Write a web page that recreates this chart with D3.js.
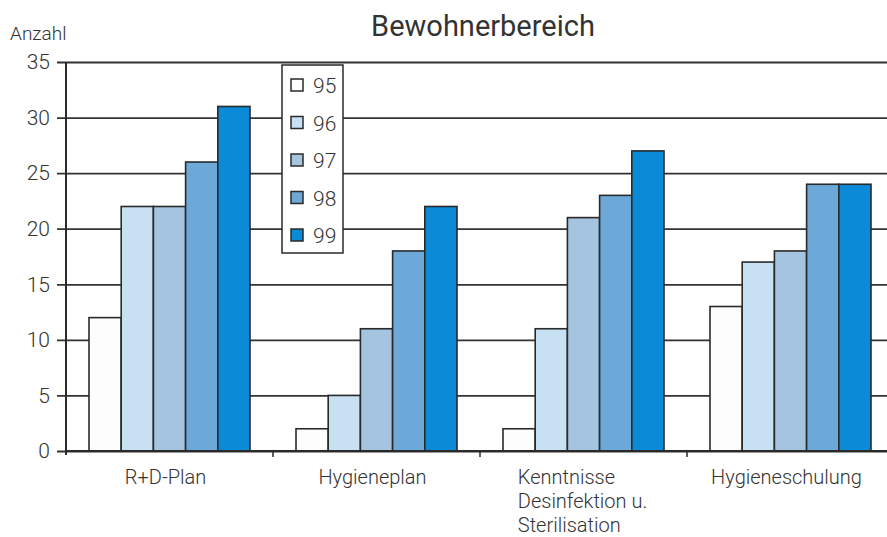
<!DOCTYPE html>
<html lang="de">
<head>
<meta charset="UTF-8">
<title>Bewohnerbereich</title>
<style>
  body { margin: 0; background: #fff; }
  svg text { font-family: Roboto, "Liberation Sans", sans-serif; font-weight: 300; fill: #333; }
</style>
</head>
<body>
<svg width="887" height="537"></svg>
<script src="https://d3js.org/d3.v7.min.js"></script>
<script>
// data
var categories = [["R+D-Plan"], ["Hygieneplan"], ["Kenntnisse", "Desinfektion u.", "Sterilisation"], ["Hygieneschulung"]];
var years = ["95", "96", "97", "98", "99"];
var v95 = [12, 2, 2, 13];
var v96 = [22, 5, 11, 17];
var v97 = [22, 11, 21, 18];
var v98 = [26, 18, 23, 24];
var v99 = [31, 22, 27, 24];
var yTicks = [0, 5, 10, 15, 20, 25, 30, 35];
var series = [v95, v96, v97, v98, v99];
var colors = ["#fdfdfd", "#c7e0f2", "#a4c4e0", "#6ca9d9", "#0a8ad7"];

var svg = d3.select("svg");
var marge = {left: 66, right: 894, top: 62, bottom: 451};

var x0 = d3.scaleBand().domain(d3.range(categories.length)).range([marge.left, marge.right]);
var inner = 23;
var x1 = d3.scaleBand().domain(d3.range(years.length)).range([inner, x0.bandwidth() - inner]);
var y = d3.scaleLinear().domain([0, 35]).range([marge.bottom, marge.top]);

// title
svg.append("text").attr("x", 483).attr("y", 36).attr("text-anchor", "middle")
  .style("font-size", "29px").style("font-weight", 400).text("Bewohnerbereich");
svg.append("text").attr("x", 10).attr("y", 40).style("font-size", "19px").text("Anzahl");

// grid + y axis
var yAxis = d3.axisLeft(y).tickValues(yTicks).tickSize(-(887 - marge.left)).tickPadding(16);
var gy = svg.append("g").attr("transform", "translate(" + marge.left + ",0)").call(yAxis);
gy.select(".domain").remove();
gy.selectAll(".tick line").attr("stroke", "#333").attr("stroke-width", 1.8).attr("x1", -9);
gy.selectAll(".tick text").style("font-size", "21px").attr("fill", "#333")
  .style("font-family", "Roboto, 'Liberation Sans', sans-serif");

// bars
var groups = svg.append("g").selectAll("g").data(categories).enter().append("g")
  .attr("transform", function (d, i) { return "translate(" + x0(i) + ",0)"; });
groups.selectAll("rect").data(function (d, i) { return series.map(function (s) { return s[i]; }); })
  .enter().append("rect")
  .attr("x", function (d, j) { return x1(j); })
  .attr("y", function (d) { return y(d); })
  .attr("width", x1.bandwidth())
  .attr("height", function (d) { return y(0) - y(d); })
  .attr("fill", function (d, j) { return colors[j]; })
  .attr("stroke", "#2a2a2a").attr("stroke-width", 1.6);

// y axis line
svg.append("line").attr("x1", marge.left).attr("x2", marge.left).attr("y1", marge.top).attr("y2", marge.bottom + 4)
  .attr("stroke", "#2a2a2a").attr("stroke-width", 2);

// x axis
var xAxis = d3.axisBottom(x0).tickSize(0).tickFormat("");
var gx = svg.append("g").attr("transform", "translate(0," + marge.bottom + ")").call(xAxis);
gx.select(".domain").attr("stroke", "#2a2a2a").attr("stroke-width", 2).attr("d", "M" + marge.left + ",0H887");
gx.selectAll(".tick").remove();
[1, 2, 3].forEach(function (i) {
  gx.append("line").attr("x1", x0(i)).attr("x2", x0(i)).attr("y1", 0).attr("y2", 6)
    .attr("stroke", "#2a2a2a").attr("stroke-width", 1.5);
});

// category labels
categories.forEach(function (lines, i) {
  var cx = x0(i) + x0.bandwidth() / 2 - 4;
  var t = svg.append("text").style("font-size", "20px");
  lines.forEach(function (s, k) {
    t.append("tspan").attr("x", 0).attr("y", 484 + k * 24).text(s);
  });
  if (lines.length === 1) {
    t.attr("text-anchor", "middle").attr("transform", "translate(" + cx + ",0)");
  } else {
    var w = d3.max(t.selectAll("tspan").nodes(), function (n) { return n.getComputedTextLength(); });
    t.attr("transform", "translate(" + (cx - w / 2 + 3) + ",0)");
  }
});

// legend
var lg = svg.append("g").attr("transform", "translate(282,65)");
lg.append("rect").attr("width", 61).attr("height", 188).attr("fill", "#fff")
  .attr("stroke", "#2a2a2a").attr("stroke-width", 1.5);
years.forEach(function (yr, j) {
  var row = lg.append("g").attr("transform", "translate(0," + (20 + j * 37.5) + ")");
  row.append("rect").attr("x", 9).attr("y", -6).attr("width", 12).attr("height", 12)
    .attr("fill", colors[j]).attr("stroke", "#2a2a2a").attr("stroke-width", 1.5);
  row.append("text").attr("x", 31).attr("y", 8).style("font-size", "21px").text(yr);
});
</script>
</body>
</html>
